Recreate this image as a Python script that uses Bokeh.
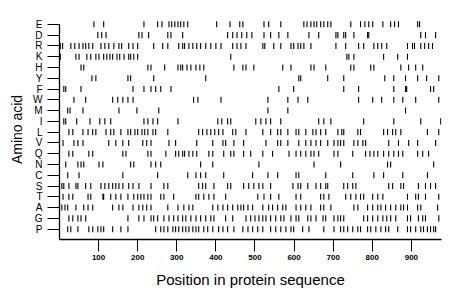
from bokeh.plotting import figure
from bokeh.models import Range1d, FixedTicker, ColumnDataSource
from bokeh.embed import file_html
from bokeh.resources import INLINE

# Amino acids, top to bottom
amino_acids = ["E", "D", "R", "K", "H", "Y", "F", "W", "M", "I",
               "L", "V", "Q", "N", "C", "S", "T", "A", "G", "P"]

pos_E = [88, 113, 216, 251, 262, 280, 287, 295, 303, 310, 318, 328, 402, 436, 461, 469,
         523, 535, 566, 625, 633, 643, 651, 658, 668, 676, 686, 694, 745, 770, 781, 791,
         801, 827, 847, 857, 867, 916, 921]
pos_D = [98, 108, 119, 203, 211, 228, 277, 285, 315, 430, 443, 454, 466, 479, 492, 523,
         540, 561, 584, 638, 663, 707, 712, 727, 732, 753, 788, 791, 924, 936, 962]
pos_R = [2, 8, 29, 39, 50, 60, 67, 75, 85, 106, 116, 126, 139, 152, 159, 177, 188, 200,
         241, 264, 277, 305, 315, 320, 331, 341, 351, 361, 374, 387, 400, 413, 443, 454,
         464, 477, 520, 525, 548, 566, 592, 599, 610, 617, 625, 643, 707, 732, 765, 778,
         804, 814, 824, 837, 890, 903, 908, 924, 934, 944, 954]
pos_K = [2, 42, 50, 70, 80, 93, 101, 113, 121, 129, 136, 147, 154, 165, 177, 182, 190,
         200, 438, 735, 740, 753, 829, 865, 890]
pos_H = [55, 62, 226, 234, 269, 303, 310, 315, 326, 336, 349, 359, 369, 446, 469, 477,
         497, 571, 592, 643, 651, 681, 745, 753, 796, 804, 873, 893, 911, 929]
pos_Y = [83, 93, 175, 182, 241, 374, 612, 617, 686, 727, 832, 855, 885, 916, 939, 970]
pos_F = [11, 16, 55, 188, 216, 234, 246, 259, 285, 561, 599, 727, 765, 855, 885, 888,
         949, 957]
pos_W = [37, 67, 136, 149, 162, 175, 188, 343, 354, 413, 533, 584, 610, 635, 765, 801,
         824, 855, 878, 911, 970]
pos_M = [21, 27, 60, 152, 198, 254, 533, 584, 885]
pos_I = [11, 16, 44, 78, 103, 116, 131, 216, 226, 239, 251, 303, 405, 415, 430, 438,
         502, 515, 528, 540, 566, 663, 676, 694, 778, 855, 924, 975]
pos_L = [24, 34, 60, 73, 85, 93, 119, 131, 139, 157, 175, 182, 193, 200, 211, 218, 226,
         239, 246, 277, 356, 366, 377, 387, 397, 407, 418, 443, 451, 477, 520, 540, 558,
         566, 584, 605, 612, 630, 648, 656, 668, 681, 712, 722, 727, 763, 770, 829, 839,
         852, 860, 873, 941, 970]
pos_V = [9, 37, 47, 60, 126, 144, 162, 177, 213, 223, 234, 280, 297, 351, 392, 418, 425,
         446, 471, 528, 558, 566, 584, 612, 630, 643, 656, 668, 686, 702, 712, 719, 727,
         753, 763, 776, 783, 842, 867, 893, 916, 962]
pos_Q = [24, 34, 75, 85, 162, 170, 226, 234, 272, 297, 305, 315, 320, 331, 341, 351, 382,
         392, 420, 438, 446, 471, 489, 520, 545, 587, 605, 617, 630, 643, 651, 663, 702,
         712, 750, 783, 794, 804, 814, 829, 842, 855, 867, 878, 916, 929, 944]
pos_N = [16, 47, 55, 62, 101, 111, 182, 190, 234, 246, 259, 361, 392, 510, 651, 719,
         839, 847, 957]
pos_C = [21, 50, 162, 251, 328, 349, 361, 374, 420, 494, 533, 558, 605, 612, 681, 750,
         804, 829, 878, 941]
pos_S = [6, 11, 24, 42, 47, 67, 80, 106, 116, 126, 136, 144, 152, 162, 177, 188, 203,
         234, 267, 277, 356, 366, 374, 395, 430, 438, 471, 484, 497, 510, 520, 540, 597,
         610, 617, 635, 656, 668, 681, 686, 727, 737, 750, 758, 842, 852, 873, 880, 918,
         936, 949, 962]
pos_T = [9, 24, 34, 73, 80, 111, 113, 131, 144, 157, 175, 190, 200, 208, 216, 226, 234,
         259, 267, 292, 349, 356, 369, 382, 395, 425, 507, 523, 540, 561, 605, 617, 668,
         676, 689, 732, 745, 758, 770, 778, 801, 814, 827, 890, 911, 918, 936, 970]
pos_A = [6, 14, 21, 42, 62, 73, 85, 136, 152, 162, 188, 203, 213, 223, 234, 277, 303,
         318, 331, 341, 392, 405, 418, 430, 443, 456, 464, 471, 482, 494, 520, 535, 545,
         558, 571, 579, 605, 617, 630, 643, 668, 676, 694, 753, 763, 788, 801, 814, 822,
         834, 847, 860, 873, 880, 890, 916, 924, 967]
pos_G = [24, 34, 47, 55, 67, 175, 203, 216, 234, 241, 251, 267, 280, 292, 303, 315, 323,
         336, 349, 361, 374, 387, 395, 425, 443, 477, 489, 500, 510, 520, 528, 540, 553,
         566, 574, 592, 605, 612, 635, 643, 656, 674, 681, 702, 712, 719, 727, 778, 788,
         801, 814, 827, 837, 847, 860, 890, 898, 918, 929, 936, 970]
pos_P = [21, 29, 47, 75, 85, 98, 106, 113, 136, 157, 175, 246, 259, 267, 277, 290, 297,
         305, 315, 323, 331, 341, 349, 356, 369, 379, 392, 407, 418, 430, 446, 469, 482,
         494, 507, 520, 540, 553, 566, 579, 592, 599, 622, 638, 676, 702, 719, 727, 737,
         750, 763, 770, 788, 796, 809, 822, 834, 842, 865, 890, 898, 911, 924, 931, 941,
         949, 957, 962]

positions = {
    "E": pos_E, "D": pos_D, "R": pos_R, "K": pos_K, "H": pos_H, "Y": pos_Y,
    "F": pos_F, "W": pos_W, "M": pos_M, "I": pos_I, "L": pos_L, "V": pos_V,
    "Q": pos_Q, "N": pos_N, "C": pos_C, "S": pos_S, "T": pos_T, "A": pos_A,
    "G": pos_G, "P": pos_P,
}

x_ticks = [100, 200, 300, 400, 500, 600, 700, 800, 900]
n = len(amino_acids)
row_of = {aa: n - i for i, aa in enumerate(amino_acids)}  # E at top

xs, y0s, y1s = [], [], []
half = 0.28
for aa in amino_acids:
    r = row_of[aa]
    for x in positions[aa]:
        xs.append(x)
        y0s.append(r - half)
        y1s.append(r + half)

src = ColumnDataSource(dict(x=xs, y0=y0s, y1=y1s))

p = figure(width=452, height=291, output_backend="svg", toolbar_location=None,
           x_range=Range1d(0, 977), y_range=Range1d(0.04, 20.45),
           min_border_left=59, min_border_right=11, min_border_top=19,
           min_border_bottom=52)
p.outline_line_color = None
p.background_fill_color = "white"
p.border_fill_color = "white"
p.xgrid.grid_line_color = None
p.ygrid.grid_line_color = None

p.segment(x0="x", y0="y0", x1="x", y1="y1", source=src, line_color="black",
          line_width=1.1)

font = "Liberation Sans"

xa = p.xaxis[0]
xa.ticker = FixedTicker(ticks=x_ticks)
xa.major_tick_out = 12
xa.major_tick_in = 0
xa.minor_tick_out = 0
xa.minor_tick_in = 0
xa.axis_line_width = 1.3
xa.axis_line_color = "black"
xa.major_tick_line_color = "black"
xa.major_tick_line_width = 1
xa.major_label_text_font = font
xa.major_label_text_font_size = "8px"
xa.major_label_text_font_style = "bold"
xa.major_label_text_color = "black"
xa.major_label_standoff = 3
xa.axis_label = "Position in protein sequence"
xa.axis_label_text_font = font
xa.axis_label_text_font_size = "15px"
xa.axis_label_text_font_style = "normal"
xa.axis_label_text_color = "black"
xa.axis_label_standoff = 8

ya = p.yaxis[0]
ya.ticker = FixedTicker(ticks=list(range(1, n + 1)))
ya.major_label_overrides = {row_of[aa]: aa for aa in amino_acids}
ya.bounds = (0.04, 20)
ya.major_tick_out = 12
ya.major_tick_in = 0
ya.minor_tick_out = 0
ya.minor_tick_in = 0
ya.axis_line_width = 1.3
ya.axis_line_color = "black"
ya.major_tick_line_color = "black"
ya.major_tick_line_width = 1
ya.major_label_text_font = font
ya.major_label_text_font_size = "10px"
ya.major_label_text_color = "black"
ya.major_label_standoff = 5
ya.axis_label = "Amino acid"
ya.axis_label_text_font = font
ya.axis_label_text_font_size = "14px"
ya.axis_label_text_font_style = "normal"
ya.axis_label_text_color = "black"
ya.axis_label_standoff = 5

open("out.html", "w").write(file_html(p, INLINE))
